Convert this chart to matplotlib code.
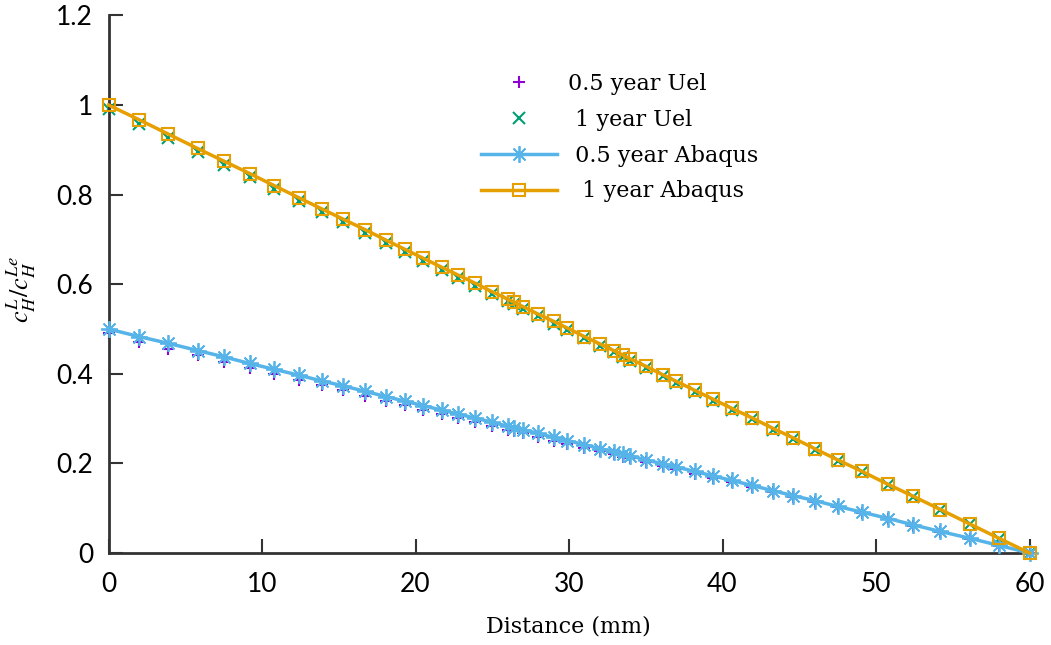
# Hydrogen concentration profiles: Uel vs Abaqus at 0.5 and 1 year
import matplotlib
matplotlib.use("Agg")
import matplotlib.pyplot as plt

# nodal positions along the path (mm)
distance = [0, 2.0, 3.9, 5.8, 7.5, 9.2, 10.8, 12.4, 13.9, 15.3, 16.7, 18.1, 19.3, 20.5,
            21.7, 22.8, 23.9, 25.0, 26.0, 26.4, 27.0, 28.0, 29.0, 29.9, 31.0, 32.0, 32.9,
            33.5, 34.0, 35.0, 36.1, 37.0, 38.2, 39.4, 40.6, 41.9, 43.3, 44.6, 46.0, 47.5,
            49.1, 50.8, 52.4, 54.2, 56.1, 58.0, 60.0]

# normalised concentration c_H^L / c_H^Le
half_year_uel = [0.490, 0.471, 0.456, 0.441, 0.427, 0.412, 0.399, 0.386, 0.374, 0.363,
                 0.351, 0.340, 0.330, 0.320, 0.310, 0.301, 0.292, 0.284, 0.275, 0.272,
                 0.267, 0.259, 0.251, 0.244, 0.235, 0.227, 0.220, 0.215, 0.211, 0.203,
                 0.194, 0.187, 0.177, 0.168, 0.158, 0.147, 0.136, 0.125, 0.114, 0.102,
                 0.089, 0.075, 0.061, 0.047, 0.032, 0.016, 0.000]
one_year_uel = [0.990, 0.958, 0.926, 0.895, 0.867, 0.839, 0.812, 0.786, 0.761, 0.738,
                0.715, 0.692, 0.672, 0.652, 0.632, 0.614, 0.596, 0.578, 0.562, 0.555,
                0.545, 0.528, 0.512, 0.497, 0.479, 0.463, 0.448, 0.438, 0.429, 0.413,
                0.395, 0.380, 0.360, 0.340, 0.320, 0.299, 0.275, 0.255, 0.231, 0.206,
                0.180, 0.151, 0.125, 0.095, 0.064, 0.032, 0.000]
half_year_abaqus = [0.500, 0.483, 0.468, 0.452, 0.438, 0.423, 0.410, 0.397, 0.384, 0.373,
                    0.361, 0.349, 0.339, 0.329, 0.319, 0.310, 0.301, 0.292, 0.283, 0.280,
                    0.275, 0.267, 0.258, 0.251, 0.242, 0.233, 0.226, 0.221, 0.217, 0.208,
                    0.199, 0.192, 0.182, 0.172, 0.162, 0.151, 0.139, 0.128, 0.117, 0.104,
                    0.091, 0.077, 0.063, 0.048, 0.033, 0.017, 0.000]
one_year_abaqus = [1.000, 0.967, 0.935, 0.903, 0.875, 0.847, 0.820, 0.793, 0.768, 0.745,
                   0.722, 0.698, 0.678, 0.658, 0.638, 0.620, 0.602, 0.583, 0.567, 0.560,
                   0.550, 0.533, 0.517, 0.502, 0.483, 0.467, 0.452, 0.442, 0.433, 0.417,
                   0.398, 0.383, 0.363, 0.343, 0.323, 0.302, 0.278, 0.257, 0.233, 0.208,
                   0.182, 0.153, 0.127, 0.097, 0.065, 0.033, 0.000]

x_ticks = [0, 10, 20, 30, 40, 50, 60]
y_ticks = [0, 0.2, 0.4, 0.6, 0.8, 1.0, 1.2]
y_tick_labels = ["0", "0.2", "0.4", "0.6", "0.8", "1", "1.2"]

W, H = 1051, 645
plt.rcParams["mathtext.fontset"] = "stix"
fig = plt.figure(figsize=(W / 100, H / 100), dpi=100)
ax = fig.add_axes([108.5 / W, (H - 553) / H, (1029.5 - 108.5) / W, (553 - 15.4) / H])
ax_w = 1029.5 - 108.5
ax_h = 553 - 15.4

purple = "#9400d3"
green = "#009e73"
blue = "#56b4e9"
orange = "#e69f00"

ax.plot(distance, half_year_abaqus, color=blue, lw=2.5, marker=(8, 2, 0), ms=12,
        mew=1.3, label=" 0.5 year Abaqus", clip_on=False, zorder=3)
ax.plot(distance, one_year_abaqus, color=orange, lw=2.5, marker="s", ms=9,
        mfc="none", mew=1.5, label="  1 year Abaqus", clip_on=False, zorder=3)
ax.plot(distance, half_year_uel, ls="none", color=purple, marker="+", ms=9, mew=1.5,
        label="0.5 year Uel", clip_on=False, zorder=2)
ax.plot(distance, one_year_uel, ls="none", color=green, marker="x", ms=8, mew=1.5,
        label=" 1 year Uel", clip_on=False, zorder=2)

ax.set_xlim(0, 60)
ax.set_ylim(0, 1.2)
ax.set_xticks(x_ticks)
ax.set_yticks(y_ticks)
ax.set_yticklabels(y_tick_labels)

for s in ["top", "right"]:
    ax.spines[s].set_visible(False)
for s in ["left", "bottom"]:
    ax.spines[s].set_linewidth(2)
    ax.spines[s].set_color("#333333")

ax.tick_params(direction="in", length=10, width=1.5, color="#333333",
               labelsize=19, labelcolor="black")
ax.tick_params(axis="y", pad=11)
ax.tick_params(axis="x", pad=14)
for lab in ax.get_xticklabels() + ax.get_yticklabels():
    lab.set_family("Lato")

ax.set_xlabel("Distance (mm)", family="DejaVu Serif", fontsize=16)
ax.xaxis.set_label_coords((568 - 108.5) / ax_w, -(616 - 553) / ax_h)
ax.set_ylabel(r"$c_H^L/c_H^{Le}$", fontsize=19)
ax.yaxis.set_label_coords(-(108.5 - 38) / ax_w, (553 - 290) / ax_h)

handles, labels = ax.get_legend_handles_labels()
order = [2, 3, 0, 1]
ax.legend([handles[i] for i in order], [labels[i] for i in order],
          loc="upper left", bbox_to_anchor=(481 / W, (H - 73) / H),
          bbox_transform=fig.transFigure, frameon=False, borderpad=0,
          borderaxespad=0, handlelength=3.4, handletextpad=0.5, labelspacing=0.62,
          prop={"family": "DejaVu Serif", "size": 16}, numpoints=1)

fig.savefig("out.png", dpi=100)
